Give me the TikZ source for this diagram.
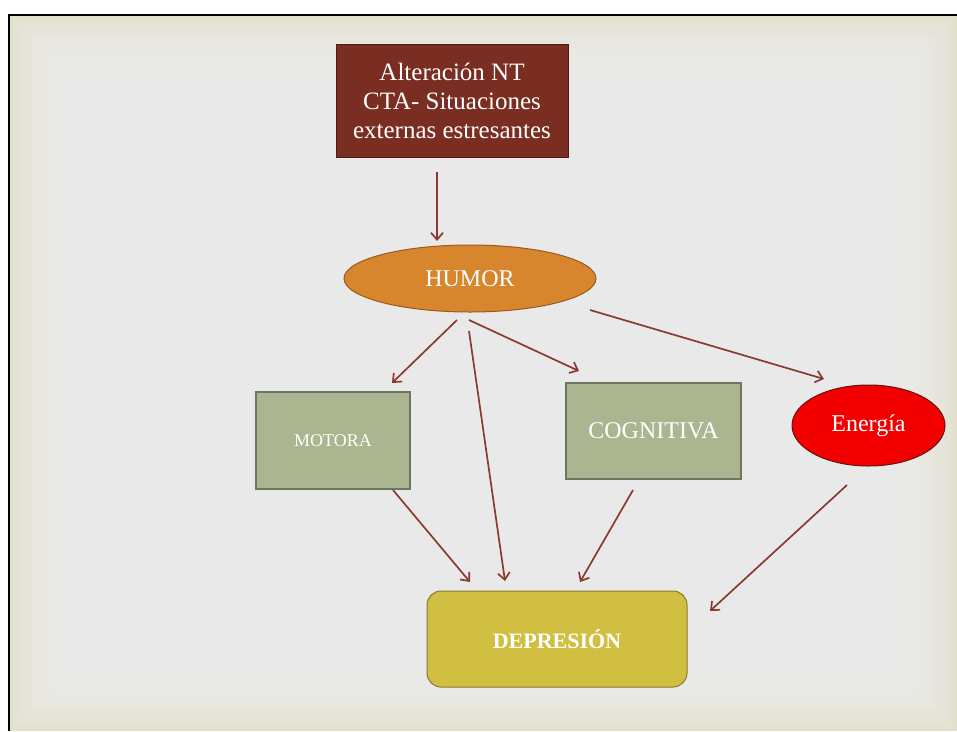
\documentclass[tikz,border=0pt]{standalone}
\usepackage{fontspec}
\setmainfont{Liberation Serif}
\usetikzlibrary{arrows.meta,shapes.geometric}
\definecolor{bgbeige}{HTML}{E1DFCA}
\definecolor{bggray}{HTML}{EEEEEE}
\definecolor{topfill}{HTML}{7A2E22}
\definecolor{topdraw}{HTML}{4E1A12}
\definecolor{humorfill}{HTML}{D8862E}
\definecolor{humordraw}{HTML}{9A5A1C}
\definecolor{greenfill}{HTML}{ABB590}
\definecolor{greendraw}{HTML}{6C7660}
\definecolor{redfill}{HTML}{F20000}
\definecolor{reddraw}{HTML}{6A1010}
\definecolor{yelfill}{HTML}{D1BF41}
\definecolor{yeldraw}{HTML}{8A7B2A}
\definecolor{arrowcol}{HTML}{8B3A30}
\tikzset{
  conn/.style={draw=arrowcol, line width=1.7pt, -{Straight Barb[length=7pt,width=12pt,line width=1.7pt]}},
  textw/.style={text=white, font=\fontsize{24}{28}\selectfont},
  greenbox/.style={rectangle, fill=greenfill, draw=greendraw, line width=1.2pt, inner sep=0pt},
}
\begin{document}
\begin{tikzpicture}[x=1pt,y=-1pt]
\useasboundingbox (0,0) rectangle (957,731);
\fill[white] (0,0) rectangle (957,731);
% background
\fill[bgbeige] (10,16) rectangle (957,731);
\foreach \i in {0,...,17} {
  \fill[bggray, opacity=0.18] ({12+5*\i},{18+5*\i}) rectangle ({955-5*\i},{729-5*\i});
}
\draw[black, line width=2.2pt] (9,731) -- (9,15) -- (957,15);

% nodes
\node[rectangle, fill=topfill, draw=topdraw, line width=1pt, minimum width=232pt, minimum height=113pt, text=white, align=center, font=\fontsize{25}{29}\selectfont] (top) at (452,100.5) {Alteración NT\\CTA- Situaciones\\externas estresantes};
\node[ellipse, fill=humorfill, draw=humordraw, line width=1pt, minimum width=252pt, minimum height=67pt, inner sep=0pt, textw] (humor) at (470,278.5) {HUMOR};
\node[greenbox, minimum width=154pt, minimum height=97pt, text=white, font=\fontsize{18}{20}\selectfont] (motora) at (333,440.5) {MOTORA};
\node[greenbox, minimum width=175pt, minimum height=96pt, textw] (cog) at (653.5,431) {COGNITIVA};
\node[ellipse, fill=redfill, draw=reddraw, line width=1pt, minimum width=153pt, minimum height=81pt, inner sep=0pt, textw] (energia) at (868.5,425.5) {Energía};
\node[rectangle, rounded corners=14pt, fill=yelfill, draw=yeldraw, line width=1pt, minimum width=260pt, minimum height=96pt, text=white, font=\fontsize{22}{26}\selectfont\bfseries] (dep) at (557,639) {DEPRESIÓN};

% connector end points (arrows float free of the shapes)
\coordinate (a1s) at (437,172);  \coordinate (a1e) at (437,241);
\coordinate (a2s) at (457,320);  \coordinate (a2e) at (392,383);
\coordinate (a3s) at (469,320);  \coordinate (a3e) at (579,371);
\coordinate (a4s) at (469,331);  \coordinate (a4e) at (505,581);
\coordinate (a5s) at (590,310);  \coordinate (a5e) at (824,379);
\coordinate (a6s) at (393,490);  \coordinate (a6e) at (470,582);
\coordinate (a7s) at (633,490);  \coordinate (a7e) at (580,582);
\coordinate (a8s) at (847,485);  \coordinate (a8e) at (710,611);

\draw[conn] (a1s) -- (a1e);
\draw[conn] (a2s) -- (a2e);
\draw[conn] (a3s) -- (a3e);
\draw[conn] (a4s) -- (a4e);
\draw[conn] (a5s) -- (a5e);
\draw[conn] (a6s) -- (a6e);
\draw[conn] (a7s) -- (a7e);
\draw[conn] (a8s) -- (a8e);
\end{tikzpicture}
\end{document}
